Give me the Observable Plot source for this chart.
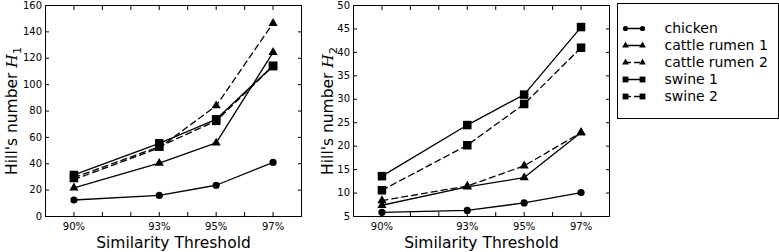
<!DOCTYPE html>
<html>
<head>
<meta charset="utf-8">
<script src="https://cdn.jsdelivr.net/npm/d3@7"></script>
<script src="https://cdn.jsdelivr.net/npm/@observablehq/plot@0.6"></script>
<style>
  html, body { margin: 0; padding: 0; background: white; }
  #chart { position: relative; width: 779px; height: 252px; background: white; overflow: hidden; }
  #chart svg { position: absolute; }
</style>
</head>
<body>
<div id="chart"></div>
<script>
// ---------- data ----------
const thresholds = [90, 93, 95, 97];
const thresholdLabels = ["90%", "93%", "95%", "97%"];
const seriesNames = ["chicken", "cattle rumen 1", "cattle rumen 2", "swine 1", "swine 2"];

// Hill's number H1 (left panel)
const h1Chicken = [12.5, 16.0, 23.7, 41.0];
const h1Cattle1 = [21.8, 40.4, 55.8, 124.5];
const h1Cattle2 = [28.0, 52.0, 84.0, 146.5];
const h1Swine1  = [31.5, 55.5, 73.7, 114.3];
const h1Swine2  = [29.5, 53.0, 72.5, 114.0];

// Hill's number H2 (right panel)
const h2Chicken = [5.9, 6.3, 7.9, 10.1];
const h2Cattle1 = [7.4, 11.3, 13.3, 22.9];
const h2Cattle2 = [8.4, 11.5, 15.8, 22.9];
const h2Swine1  = [13.6, 24.5, 31.0, 45.4];
const h2Swine2  = [10.6, 20.2, 29.0, 41.0];

const h1Ticks = [0, 20, 40, 60, 80, 100, 120, 140, 160];
const h2Ticks = [5, 10, 15, 20, 25, 30, 35, 40, 45, 50];
const xMinorTicks = [89, 90, 91, 92, 93, 94, 95, 96, 97, 98];

// ---------- styles (kept separate from data) ----------
const seriesSymbol = ["circle", "triangle", "triangle", "square", "square"];
const seriesR      = [3.6, 3.4, 3.4, 4.8, 4.8];
const legendR      = [2.6, 2.5, 2.5, 3.3, 3.3];
const seriesDash   = [null, null, "6,4", null, "6,4"];

function rows(values) {
  return seriesNames.map((s, i) => thresholds.map((t, j) => ({series: s, x: t, y: values[i][j]})));
}

function panel({values, yDomain, yTicks, sub, left, marginLeft, marginRight, labelDx}) {
  const data = rows(values);
  const marks = [
    Plot.axisX({ticks: xMinorTicks, anchor: "bottom", tickSize: -4, fill: "none", label: null}),
    Plot.axisX({ticks: xMinorTicks, anchor: "top", tickSize: -4, fill: "none", label: null}),
    Plot.axisY({ticks: yTicks, anchor: "left", tickSize: -4, fill: "none", label: null}),
    Plot.axisY({ticks: yTicks, anchor: "right", tickSize: -4, fill: "none", label: null}),
    Plot.axisX({ticks: thresholds, anchor: "bottom", tickSize: 0, tickPadding: 6.5,
                tickFormat: d => thresholdLabels[thresholds.indexOf(d)], label: null, fill: "black"}),
    Plot.axisY({ticks: yTicks, anchor: "left", tickSize: 0, tickPadding: 3.5, label: null, fill: "black"}),
    Plot.text(["Similarity Threshold"], {text: d => d, frameAnchor: "bottom", dy: 26.5,
               fontSize: 15.5, textAnchor: "middle", lineAnchor: "middle", fill: "black"}),
    Plot.text(["Hill's number"], {text: d => d, frameAnchor: "left", dx: labelDx, rotate: -90,
               fontSize: 15.5, textAnchor: "middle", lineAnchor: "middle", fill: "black"})
  ];
  data.forEach((d, i) => {
    marks.push(Plot.line(d, {x: "x", y: "y", stroke: "black", strokeWidth: 1.3,
                              strokeDasharray: seriesDash[i] || undefined}));
  });
  data.forEach((d, i) => {
    marks.push(Plot.dot(d, {x: "x", y: "y", symbol: seriesSymbol[i], r: seriesR[i],
                             fill: "black", stroke: "none"}));
  });
  marks.push(Plot.frame({stroke: "black", strokeWidth: 1}));
  const svg = Plot.plot({
    width: 310, height: 252,
    marginLeft, marginRight, marginTop: 5, marginBottom: 36,
    style: {fontFamily: "DejaVu Sans", fontSize: "10px", color: "black", background: "transparent"},
    x: {domain: [89, 98]},
    y: {domain: yDomain},
    marks
  });
  svg.style.left = left + "px";
  svg.style.top = "0px";
  // italic H with subscript in the y label
  d3.select(svg).selectAll("text").filter(function () {
    return this.textContent === "Hill's number";
  }).each(function () {
    const t = d3.select(this);
    t.text("Hill's number ");
    t.append("tspan").attr("font-family", "DejaVu Serif").attr("font-style", "italic").text("H");
    t.append("tspan").attr("font-size", "11px").attr("dy", "0.3em").text(sub);
  });
  return svg;
}

const chart = document.getElementById("chart");

chart.appendChild(panel({
  values: [h1Chicken, h1Cattle1, h1Cattle2, h1Swine1, h1Swine2],
  yDomain: [0, 160], yTicks: h1Ticks, sub: "1",
  left: 0, marginLeft: 45, marginRight: 9, labelDx: -33
}));

chart.appendChild(panel({
  values: [h2Chicken, h2Cattle1, h2Cattle2, h2Swine1, h2Swine2],
  yDomain: [5, 50], yTicks: h2Ticks, sub: "2",
  left: 310, marginLeft: 43, marginRight: 11, labelDx: -25
}));

// ---------- legend ----------
const legendRows = seriesNames.map((s, i) => [{series: s, x: 0}, {series: s, x: 1}]);
const legendMarks = [Plot.frame({stroke: "black", strokeWidth: 1})];
legendRows.forEach((d, i) => {
  legendMarks.push(Plot.line(d, {x: "x", y: "series", stroke: "black", strokeWidth: 1.3,
                                 strokeDasharray: seriesDash[i] ? "5,4" : undefined}));
  legendMarks.push(Plot.dot(d, {x: "x", y: "series", symbol: seriesSymbol[i], r: legendR[i],
                                fill: "black", stroke: "none"}));
});
legendMarks.push(Plot.text(seriesNames, {x: () => 1, y: d => d, text: d => d, dx: 22,
                                         textAnchor: "start", lineAnchor: "middle", fontSize: 14, fill: "black"}));
const legend = Plot.plot({
  width: 163, height: 117,
  marginLeft: 1, marginRight: 1, marginTop: 1, marginBottom: 1,
  style: {fontFamily: "DejaVu Sans", fontSize: "14px", color: "black", background: "white"},
  x: {domain: [0, 1], range: [9, 26], axis: null},
  y: {type: "point", domain: seriesNames, range: [16.3, 103], axis: null},
  marks: legendMarks
});
legend.style.left = "616px";
legend.style.top = "2px";
chart.appendChild(legend);
</script>
</body>
</html>
